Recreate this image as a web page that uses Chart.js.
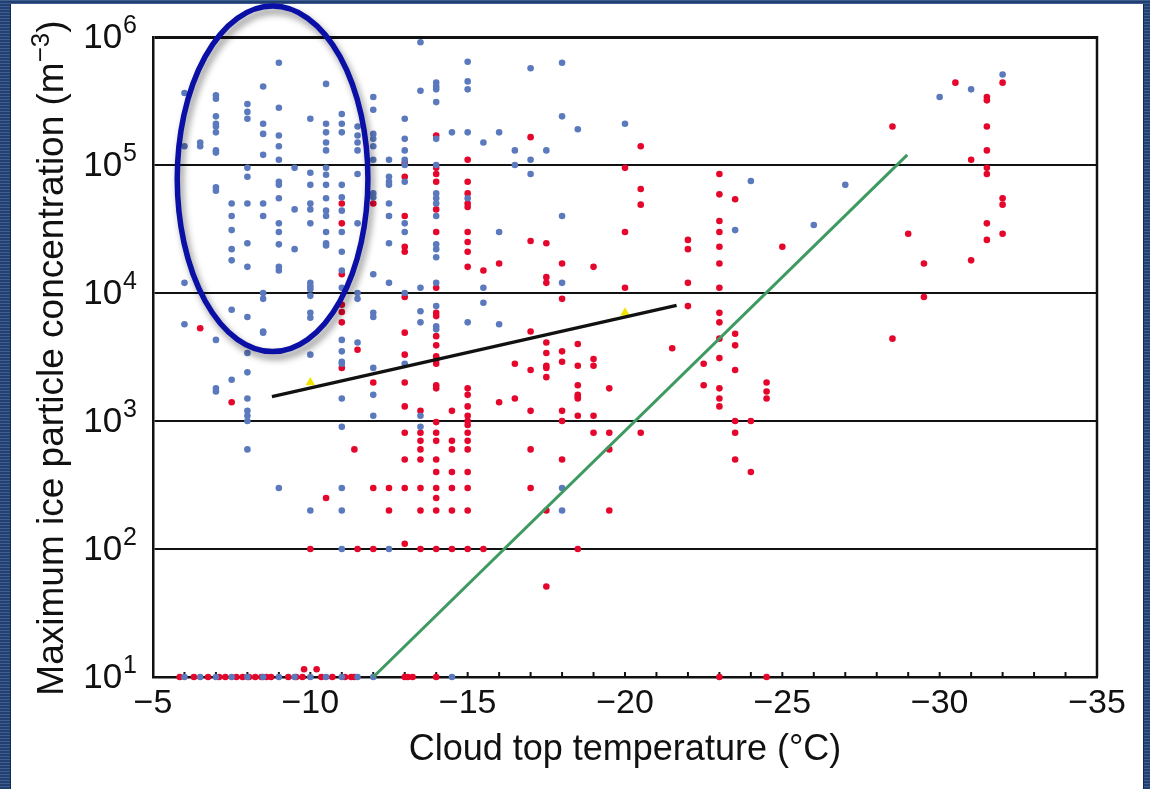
<!DOCTYPE html>
<html>
<head>
<meta charset="utf-8">
<title>Ice particle concentration vs cloud top temperature</title>
<script src="https://cdn.jsdelivr.net/npm/chart.js@4.4.1/dist/chart.umd.min.js"></script>
<style>
  body {
    margin: 0;
    width: 1150px;
    height: 789px;
    overflow: hidden;
    background: repeating-linear-gradient(180deg, #3d5f92 0px, #3d5f92 1px, #233f70 1px, #233f70 3px);
  }
  #panel {
    position: absolute;
    left: 11px;
    top: 4px;
    width: 1132px;
    height: 785px;
    background: #fff;
    box-shadow: -1px 0 0 #152a52, 1px 0 0 #152a52;
  }
  #wrap {
    position: absolute;
    left: 0;
    top: 0;
    width: 1150px;
    height: 789px;
  }
</style>
</head>
<body>
<div id="panel"></div>
<div id="wrap"><canvas id="iceChart" width="1150" height="789"></canvas></div>
<script>
const FONT = "'Liberation Sans', Arial, Helvetica, sans-serif";

// axis ranges
const tempMin = -35, tempMax = -5;
const concMin = 10, concMax = 1e6;
const decades = [1, 2, 3, 4, 5, 6];

// [cloud top temperature (°C), max ice concentration (m^-3)]
const bluePoints = [
  [-6, 3.65e5], [-6, 1.4e5], [-6, 1.2e4], [-6, 5.7e3], [-6, 10],
  [-6.5, 1.5e5], [-6.5, 1.4e5], [-6.5, 10],
  [-7, 3.5e5], [-7, 3.3e5], [-7, 2.4e5], [-7, 2.1e5], [-7, 2.0e5], [-7, 1.8e5], [-7, 1.3e5], [-7, 1.25e5],
  [-7, 6.7e4], [-7, 6.3e4], [-7, 4.3e3], [-7, 1.8e3], [-7, 1.7e3], [-7, 10],
  [-7.5, 5.0e4], [-7.5, 4.0e4], [-7.5, 3.1e4], [-7.5, 2.2e4], [-7.5, 1.8e4], [-7.5, 7.4e3], [-7.5, 2.1e3], [-7.5, 10],
  [-8, 3.0e5], [-8, 2.6e5], [-8, 2.3e5], [-8, 9.5e4], [-8, 8.1e4], [-8, 5.0e4], [-8, 2.45e4], [-8, 1.6e4],
  [-8, 6.5e3], [-8, 3.4e3], [-8, 2.4e3], [-8, 1.5e3], [-8, 1.2e3], [-8, 1.1e3], [-8, 1.0e3], [-8, 600], [-8, 10],
  [-8.5, 4.1e5], [-8.5, 2.1e5], [-8.5, 1.75e5], [-8.5, 1.2e5], [-8.5, 5.0e4], [-8.5, 4.0e4], [-8.5, 1.0e4],
  [-8.5, 9.0e3], [-8.5, 5.0e3], [-8.5, 4.9e3], [-8.5, 10],
  [-9, 6.3e5], [-9, 2.8e5], [-9, 1.7e5], [-9, 1.4e5], [-9, 1.1e5], [-9, 7.4e4], [-9, 7.0e4], [-9, 5.5e4],
  [-9, 3.5e4], [-9, 3.0e4], [-9, 2.4e4], [-9, 1.6e4], [-9, 1.5e4], [-9, 300], [-9, 10],
  [-9.5, 9.5e4], [-9.5, 4.5e4], [-9.5, 2.2e4], [-9.5, 10],
  [-10, 2.3e5], [-10, 8.7e4], [-10, 7.0e4], [-10, 5.0e4], [-10, 4.5e4], [-10, 3.5e4], [-10, 1.2e4], [-10, 1.13e4],
  [-10, 1.07e4], [-10, 9.5e3], [-10, 7.0e3], [-10, 6.4e3], [-10, 3.3e3], [-10, 200], [-10, 10],
  [-10.5, 4.3e5], [-10.5, 2.1e5], [-10.5, 1.8e5], [-10.5, 1.5e5], [-10.5, 1.3e5], [-10.5, 9.5e4], [-10.5, 8.4e4],
  [-10.5, 7.0e4], [-10.5, 5.5e4], [-10.5, 4.4e4], [-10.5, 4.0e4], [-10.5, 3.0e4], [-10.5, 2.45e4], [-10.5, 2.35e4], [-10.5, 10],
  [-11, 2.5e5], [-11, 2.1e5], [-11, 1.8e5], [-11, 7.0e4], [-11, 5.6e4], [-11, 4.4e4], [-11, 3.0e4], [-11, 2.1e4],
  [-11, 1.5e4], [-11, 1.1e4], [-11, 4.3e3], [-11, 3.5e3], [-11, 2.9e3], [-11, 2.8e3], [-11, 1.5e3], [-11, 900],
  [-11, 300], [-11, 200], [-11, 100], [-11, 10],
  [-11.5, 2.0e5], [-11.5, 1.7e5], [-11.5, 1.5e5], [-11.5, 1.3e5], [-11.5, 8.5e4], [-11.5, 3.5e4], [-11.5, 1.0e4],
  [-11.5, 9.0e3], [-11.5, 4.1e3], [-11.5, 10],
  [-12, 3.4e5], [-12, 2.7e5], [-12, 1.75e5], [-12, 1.6e5], [-12, 1.4e5], [-12, 1.1e5], [-12, 6.0e4], [-12, 5.6e4],
  [-12, 1.4e4], [-12, 7.0e3], [-12, 6.5e3], [-12, 2.6e3], [-12, 1.6e3], [-12, 1.1e3], [-12, 10],
  [-12.5, 1.1e5], [-12.5, 8.1e4], [-12.5, 7.4e4], [-12.5, 7.0e4], [-12.5, 5.0e4], [-12.5, 4.0e4], [-12.5, 2.45e4],
  [-12.5, 1.2e4], [-12.5, 100],
  [-13, 2.3e5], [-13, 1.6e5], [-13, 1.3e5], [-13, 1.1e5], [-13, 1.0e5], [-13, 7.4e4], [-13, 3.5e4], [-13, 3.0e4],
  [-13, 1.0e4], [-13, 2.8e3],
  [-13.5, 9.1e5], [-13.5, 3.8e5], [-13.5, 1.1e4], [-13.5, 7.2e3], [-13.5, 5.9e3], [-13.5, 1.1e3], [-13.5, 900],
  [-14, 4.4e5], [-14, 4.1e5], [-14, 3.9e5], [-14, 3.1e5], [-14, 1.6e5], [-14, 1.0e5], [-14, 6.0e4], [-14, 5.5e4],
  [-14, 5.0e4], [-14, 4.0e4], [-14, 2.4e4], [-14, 2.2e4], [-14, 1.9e4], [-14, 1.2e4], [-14, 7.9e3], [-14, 5.5e3], [-14, 5.2e3],
  [-14.5, 1.8e5], [-14.5, 10],
  [-15, 6.4e5], [-15, 4.5e5], [-15, 3.9e5], [-15, 1.8e5], [-15, 5.5e4], [-15, 5.9e3],
  [-15.5, 1.5e5], [-15.5, 1.1e4], [-15.5, 8.4e3],
  [-16, 1.8e5], [-16, 3.0e4], [-16, 5.7e3],
  [-16.5, 1.3e5], [-16.5, 1.0e5],
  [-17, 5.7e5], [-17, 1.1e5], [-17, 8.5e4],
  [-17.5, 1.3e5],
  [-18, 6.3e5], [-18, 2.4e5], [-18, 4.0e4], [-18, 1.2e4], [-18, 300], [-18, 200],
  [-18.5, 1.9e5],
  [-20, 2.1e5],
  [-23.5, 3.1e4],
  [-24, 7.5e4],
  [-26, 3.4e4],
  [-27, 7.0e4],
  [-30, 3.4e5],
  [-31, 3.9e5],
  [-32, 5.1e5]
];

const redPoints = [
  [-5.85, 10], [-6.3, 10], [-6.75, 10], [-7.1, 10], [-7.3, 10], [-7.65, 10], [-7.85, 10], [-8.05, 10], [-8.25, 10],
  [-8.45, 10], [-8.6, 10], [-8.75, 10], [-9.3, 10], [-9.55, 10], [-9.75, 10], [-9.8, 11.5], [-10.2, 11.5],
  [-10.35, 10], [-10.7, 10], [-11.1, 10], [-11.3, 10], [-11.4, 10], [-13, 10], [-13.1, 10], [-13.25, 10],
  [-14, 10], [-23, 10], [-24.5, 10],
  [-6.5, 5.3e3],
  [-7.5, 1.4e3],
  [-10, 100],
  [-10.5, 250],
  [-11, 5.0e4], [-11, 3.5e4], [-11, 1.4e4], [-11, 8.1e3], [-11, 7.1e3], [-11, 5.9e3], [-11, 2.6e3],
  [-11.5, 3.6e3], [-11.4, 600], [-11.5, 100],
  [-12, 5.0e4], [-12, 2.0e3], [-12, 300], [-12, 100],
  [-12.5, 300], [-12.5, 200],
  [-13, 1.04e5], [-13, 8.1e4], [-13, 4.0e4], [-13, 2.3e4], [-13, 2.1e4], [-13, 9.3e3], [-13, 4.9e3], [-13, 3.3e3],
  [-13, 2.0e3], [-13, 1.3e3], [-13, 810], [-13, 500], [-13, 300], [-13, 110],
  [-13.5, 1.2e3], [-13.5, 810], [-13.5, 700], [-13.5, 600], [-13.5, 500], [-13.5, 300], [-13.5, 200], [-13.5, 100],
  [-14, 1.7e5], [-14, 9.5e4], [-14, 8.5e4], [-14, 7.4e4], [-14, 4.5e4], [-14, 3.0e4], [-14, 1.1e4], [-14, 7.0e3],
  [-14, 6.6e3], [-14, 4.6e3], [-14, 3.9e3], [-14, 3.2e3], [-14, 3.0e3], [-14, 2.8e3], [-14, 1.9e3], [-14, 1.8e3],
  [-14, 980], [-14, 810], [-14, 700], [-14, 500], [-14, 400], [-14, 300], [-14, 250], [-14, 200], [-14, 100],
  [-14.5, 1.2e3], [-14.5, 700], [-14.5, 600], [-14.5, 400], [-14.5, 300], [-14.5, 200], [-14.5, 100],
  [-15, 1.1e5], [-15, 7.4e4], [-15, 6.0e4], [-15, 5.0e4], [-15, 4.7e4], [-15, 3.0e4], [-15, 2.5e4], [-15, 2.1e4],
  [-15, 1.6e4], [-15, 1.8e3], [-15, 1.6e3], [-15, 1.3e3], [-15, 1.1e3], [-15, 1.0e3], [-15, 930], [-15, 810],
  [-15, 700], [-15, 600], [-15, 400], [-15, 300], [-15, 200], [-15, 100],
  [-15.5, 1.5e4], [-15.5, 100],
  [-16, 1.7e4], [-16, 1.4e3],
  [-16.5, 2.8e3], [-16.5, 1.5e3],
  [-17, 1.65e5], [-17, 2.55e4], [-17, 5.0e3], [-17, 2.5e3], [-17, 1.2e3], [-17, 600], [-17, 300],
  [-17.5, 2.45e4], [-17.5, 1.33e4], [-17.5, 1.2e4], [-17.5, 4.1e3], [-17.5, 3.4e3], [-17.5, 2.7e3], [-17.5, 2.6e3],
  [-17.5, 2.2e3], [-17.5, 200], [-17.5, 51],
  [-18, 1.7e4], [-18, 9.0e3], [-18, 3.5e3], [-18, 2.9e3], [-18, 1.2e3], [-18, 1.0e3], [-18, 500],
  [-18.5, 4.0e3], [-18.5, 2.7e3], [-18.5, 1.9e3], [-18.5, 1.6e3], [-18.5, 1.55e3], [-18.5, 1.5e3], [-18.5, 1.1e3], [-18.5, 100],
  [-19, 1.6e4], [-19, 3.05e3], [-19, 2.7e3], [-19, 1.1e3], [-19, 810],
  [-19.5, 1.8e3], [-19.5, 810], [-19.5, 600], [-19.5, 200],
  [-20, 9.5e4], [-20, 3.0e4], [-20, 1.1e4],
  [-20.5, 1.4e5], [-20.5, 6.5e4], [-20.5, 4.9e4], [-20.5, 810],
  [-21.5, 3.7e3],
  [-22, 2.6e4], [-22, 2.2e4], [-22, 1.2e4], [-22, 7.9e3],
  [-22.5, 2.8e3], [-22.5, 1.9e3],
  [-23, 8.5e4], [-23, 5.9e4], [-23, 3.65e4], [-23, 3.0e4], [-23, 2.3e4], [-23, 1.7e4], [-23, 1.1e4], [-23, 7.0e3],
  [-23, 5.9e3], [-23, 4.4e3], [-23, 3.1e3], [-23, 1.8e3], [-23, 1.5e3], [-23, 1.3e3],
  [-23.5, 5.4e4], [-23.5, 4.8e3], [-23.5, 3.9e3], [-23.5, 2.5e3], [-23.5, 1.0e3], [-23.5, 810], [-23.5, 500],
  [-24, 1.0e3], [-24, 400],
  [-24.5, 2.0e3], [-24.5, 1.7e3], [-24.5, 1.5e3],
  [-25, 2.3e4],
  [-28.5, 2.0e5], [-28.5, 4.4e3],
  [-29, 2.9e4],
  [-29.5, 1.7e4], [-29.5, 9.3e3],
  [-30.5, 4.4e5],
  [-31, 1.1e5], [-31, 1.8e4],
  [-31.5, 3.4e5], [-31.5, 3.2e5], [-31.5, 2.0e5], [-31.5, 1.3e5], [-31.5, 9.5e4], [-31.5, 8.5e4], [-31.5, 3.5e4], [-31.5, 2.6e4],
  [-32, 4.4e5], [-32, 5.5e4], [-32, 4.9e4], [-32, 2.9e4]
];

// yellow markers sitting on the black fit
const markerPoints = [[-10, 2000], [-20, 7000]];

// fitted trend (black) and threshold (green) line end points
const fitLine = [[-8.78, 1550], [-21.64, 8000]];
const thresholdLine = [[-12.0, 10], [-28.97, 1.2e5]];

// highlight ellipse: centre (°C, m^-3), half width in °C, half height in decades
const ringCenter = [-8.8, 7.8e4];
const ringHalfWidth = 3.03;
const ringHalfDecades = 1.35;

const toXY = pts => pts.map(p => ({x: p[0], y: p[1]}));

const figureDecor = {
  id: 'figureDecor',
  beforeDatasetsDraw(chart) {
    const {ctx, chartArea, scales} = chart;
    const xs = scales.x;
    ctx.save();
    ctx.strokeStyle = '#111';
    // inward ticks along the bottom axis
    ctx.lineWidth = 2;
    xs.ticks.forEach(t => {
      const px = xs.getPixelForValue(t.value);
      ctx.beginPath();
      ctx.moveTo(px, chartArea.bottom);
      ctx.lineTo(px, chartArea.bottom - 5);
      ctx.stroke();
    });
    // right frame line
    ctx.lineWidth = 2.5;
    ctx.beginPath();
    ctx.moveTo(chartArea.right, chartArea.top - 1);
    ctx.lineTo(chartArea.right, chartArea.bottom);
    ctx.stroke();
    ctx.restore();
  },
  afterDraw(chart) {
    const {ctx, chartArea, scales} = chart;
    const xs = scales.x, ys = scales.y;
    ctx.save();

    // y tick labels as powers of ten
    ctx.fillStyle = '#111';
    ctx.textBaseline = 'middle';
    ctx.textAlign = 'right';
    decades.forEach(e => {
      const py = ys.getPixelForValue(Math.pow(10, e));
      ctx.font = '25px ' + FONT;
      const ew = ctx.measureText(String(e)).width;
      ctx.fillText(String(e), 137, py - 11);
      ctx.font = '35px ' + FONT;
      ctx.fillText('10', 137 - ew - 1, py + 1);
    });

    // y axis title with superscript unit
    const main = 'Maximum ice particle concentration (m';
    const sup = '\u22123';
    const tail = ')';
    ctx.font = '37px ' + FONT;
    const w1 = ctx.measureText(main).width;
    const w3 = ctx.measureText(tail).width;
    ctx.font = '26px ' + FONT;
    const w2 = ctx.measureText(sup).width;
    const total = w1 + w2 + w3;
    ctx.translate(63, (chartArea.top + chartArea.bottom) / 2 + 1);
    ctx.rotate(-Math.PI / 2);
    ctx.textAlign = 'left';
    ctx.textBaseline = 'alphabetic';
    ctx.font = '37px ' + FONT;
    ctx.fillText(main, -total / 2, 0);
    ctx.fillText(tail, -total / 2 + w1 + w2, 0);
    ctx.font = '26px ' + FONT;
    ctx.fillText(sup, -total / 2 + w1, -14);
    ctx.restore();

    // highlight ellipse with drop shadow
    const cx = xs.getPixelForValue(ringCenter[0]);
    const cy = ys.getPixelForValue(ringCenter[1]);
    const rx = Math.abs(xs.getPixelForValue(ringCenter[0] - ringHalfWidth) - cx);
    const ry = Math.abs(cy - ys.getPixelForValue(ringCenter[1] * Math.pow(10, ringHalfDecades)));
    ctx.save();
    ctx.shadowColor = 'rgba(0,0,0,0.45)';
    ctx.shadowBlur = 7;
    ctx.shadowOffsetX = 3;
    ctx.shadowOffsetY = 5;
    ctx.strokeStyle = '#0a0fa6';
    ctx.lineWidth = 5.5;
    ctx.beginPath();
    ctx.ellipse(cx, cy, rx, ry, 0, 0, Math.PI * 2);
    ctx.stroke();
    ctx.restore();
  }
};

new Chart(document.getElementById('iceChart'), {
  type: 'scatter',
  data: {
    datasets: [
      {
        label: 'fit',
        data: toXY(fitLine),
        showLine: true,
        borderColor: '#111',
        borderWidth: 3.5,
        pointRadius: 0,
        order: 0
      },
      {
        label: 'threshold',
        data: toXY(thresholdLine),
        showLine: true,
        borderColor: '#3f9a62',
        borderWidth: 3,
        pointRadius: 0,
        order: 0
      },
      {
        label: 'markers',
        data: toXY(markerPoints),
        pointStyle: 'triangle',
        pointRadius: 5.5,
        backgroundColor: '#f2e600',
        borderWidth: 0,
        order: 1
      },
      {
        label: 'blue',
        data: toXY(bluePoints),
        pointRadius: 3.3,
        backgroundColor: '#5b79bd',
        borderWidth: 0,
        clip: 6,
        order: 2
      },
      {
        label: 'red',
        data: toXY(redPoints),
        pointRadius: 3.3,
        backgroundColor: '#e5062c',
        borderWidth: 0,
        clip: 6,
        order: 3
      }
    ]
  },
  options: {
    responsive: false,
    animation: false,
    devicePixelRatio: 1,
    layout: {padding: {left: 11, top: 37, right: 53, bottom: 0}},
    plugins: {legend: {display: false}, tooltip: {enabled: false}},
    scales: {
      x: {
        type: 'linear',
        min: tempMin,
        max: tempMax,
        reverse: true,
        afterFit: s => { s.height = 112; },
        grid: {display: false, drawTicks: false},
        border: {display: true, color: '#111', width: 2.5},
        ticks: {
          stepSize: 1,
          autoSkip: false,
          maxRotation: 0,
          minRotation: 0,
          padding: 6,
          color: '#111',
          font: {family: FONT, size: 34},
          callback: v => (v % 5 === 0 ? '\u2212' + Math.abs(v) : '')
        },
        title: {
          display: true,
          text: 'Cloud top temperature (\u00B0C)',
          color: '#111',
          font: {family: FONT, size: 36},
          padding: {top: 0, bottom: 17}
        }
      },
      y: {
        type: 'logarithmic',
        min: concMin,
        max: concMax,
        afterFit: s => { s.width = 142; },
        afterBuildTicks: s => { s.ticks = decades.map(e => ({value: Math.pow(10, e)})); },
        grid: {
          color: '#111',
          lineWidth: c => (c.tick && c.tick.value === concMax ? 3 : 2),
          drawTicks: false
        },
        border: {display: true, color: '#111', width: 2.5},
        ticks: {display: false}
      }
    }
  },
  plugins: [figureDecor]
});
</script>
</body>
</html>
